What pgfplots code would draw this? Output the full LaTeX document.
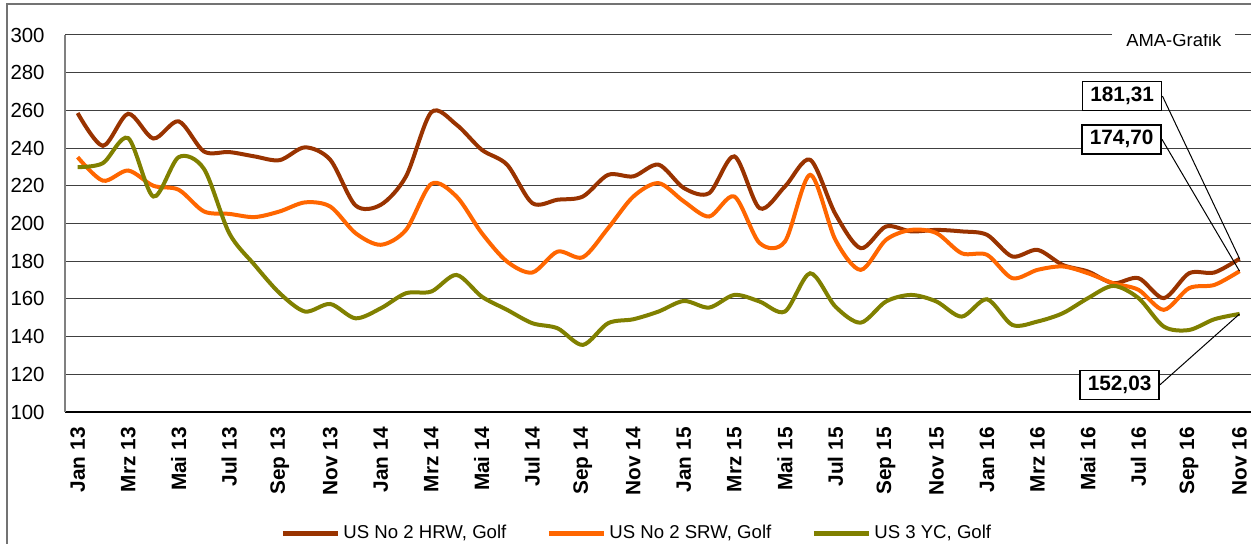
\documentclass[border=0pt]{standalone}
\usepackage{fontspec}
\setmainfont{Liberation Sans}[Ligatures=NoCommon]
\usepackage{pgfplots}
\usepackage{pgfplotstable}
\pgfplotsset{compat=1.18}

\definecolor{hrw}{RGB}{153,51,0}
\definecolor{srw}{RGB}{255,102,0}
\definecolor{yc}{RGB}{128,128,0}

% monthly prices, Jan 13 = 0 ... Nov 16 = 46
\pgfplotstableread{
m hrw srw yc
0 258.6 235.2 229.9
1 241.2 222.7 232.0
2 258.2 228.1 245.3
3 245.1 220.0 214.3
4 254.2 217.9 235.2
5 238.2 206.4 229.0
6 237.9 205.1 194.9
7 235.6 203.4 178.1
8 233.6 206.4 163.0
9 240.4 211.2 153.3
10 233.8 209.0 157.3
11 209.6 194.9 149.7
12 209.9 188.7 155.0
13 225.0 196.6 163.0
14 259.0 221.0 163.9
15 252.4 214.3 172.7
16 239.1 194.9 161.2
17 231.2 179.8 154.2
18 210.8 174.0 147.1
19 212.6 185.1 144.4
20 214.3 182.1 135.6
21 225.8 197.5 147.1
22 225.0 214.3 149.2
23 231.2 221.4 153.3
24 218.8 211.7 158.9
25 216.1 203.7 155.4
26 235.6 214.3 162.1
27 208.1 189.6 158.6
28 219.6 190.4 153.3
29 233.8 225.8 173.6
30 205.0 191.3 155.9
31 186.9 175.4 147.4
32 198.4 191.3 158.6
33 195.8 196.6 162.1
34 196.6 194.9 158.6
35 195.8 184.2 150.6
36 194.0 183.4 159.8
37 182.5 171.0 146.2
38 186.0 175.4 148.0
39 178.0 177.2 152.4
40 174.5 173.6 160.4
41 168.3 168.3 166.9
42 171.0 164.8 160.4
43 160.4 154.2 145.3
44 173.6 165.7 143.5
45 174.0 167.4 149.2
46 181.31 174.70 152.03
}\prices

\begin{document}
\begin{tikzpicture}
\path[use as bounding box, clip] (0pt,0pt) rectangle (625.5pt,272pt);
% outer chart frame (cropped)
\draw[black!55, line width=0.6pt] (3.5pt,-10pt) -- (3.5pt,270pt) -- (640pt,270pt);
\begin{axis}[
    at={(32.5pt,66pt)}, anchor=south west,
    scale only axis,
    width=593.6pt, height=188.5pt,
    xmin=-0.5, xmax=46.5,
    ymin=100, ymax=300,
    ytick={100,120,...,300},
    xtick={0,2,...,46},
    xticklabels={Jan 13,Mrz 13,Mai 13,Jul 13,Sep 13,Nov 13,Jan 14,Mrz 14,Mai 14,Jul 14,Sep 14,Nov 14,Jan 15,Mrz 15,Mai 15,Jul 15,Sep 15,Nov 15,Jan 16,Mrz 16,Mai 16,Jul 16,Sep 16,Nov 16},
    axis lines*=left,
    x axis line style={black, line width=0.6pt},
    y axis line style={black!50, line width=0.6pt},
    major tick length=0pt,
    ymajorgrids,
    grid style={black!75, line width=0.5pt},
    /pgf/number format/assume math mode=true,
    yticklabel style={font=\fontsize{10.2}{12}\selectfont, inner sep=0pt, anchor=east},
    yticklabel shift=10pt,
    xticklabel style={font=\fontsize{10.4}{12}\selectfont\bfseries, rotate=90, anchor=east, inner sep=0pt},
    xticklabel shift=7.5pt,
    legend columns=3,
    legend style={at={(0.1811,-0.321)}, anchor=west, draw=none, fill=none,
        inner sep=0pt, font=\fontsize{9.3}{11}\selectfont,
        nodes={inner xsep=1.5pt, inner ysep=0pt},
        /tikz/every even column/.append style={column sep=18.5pt}},
    legend image code/.code={\draw[#1, line width=2.5pt] (0pt,0pt) -- (27.5pt,0pt);},
    every axis plot/.append style={line width=2pt, smooth, tension=0.5},
]
\addplot[hrw] table[x=m, y=hrw] {\prices};
\addplot[srw] table[x=m, y=srw] {\prices};
\addplot[yc] table[x=m, y=yc] {\prices};
\legend{{US No 2 HRW, Golf}, {US No 2 SRW, Golf}, {US 3 YC, Golf}}

\node[fill=white, inner xsep=7pt, inner ysep=3pt, font=\fontsize{9.2}{11}\selectfont]
    at (axis cs:43.4,297.5) {AMA-Grafik};

\node[draw, line width=0.8pt, fill=white, minimum width=39.5pt, minimum height=14.5pt, inner sep=0pt,
    font=\fontsize{10.4}{12}\selectfont\bfseries] (b1) at (axis cs:41.35,267.6) {181,31};
\node[draw, line width=0.8pt, fill=white, minimum width=39.5pt, minimum height=14.5pt, inner sep=0pt,
    font=\fontsize{10.4}{12}\selectfont\bfseries] (b2) at (axis cs:41.33,244.7) {174,70};
\node[draw, line width=0.8pt, fill=white, minimum width=39.5pt, minimum height=14.5pt, inner sep=0pt,
    font=\fontsize{10.4}{12}\selectfont\bfseries] (b3) at (axis cs:41.25,114.4) {152,03};
\draw[black, line width=0.5pt] (b1.east) -- (axis cs:46,181.31);
\draw[black, line width=0.5pt] (b2.east) -- (axis cs:46,174.70);
\draw[black, line width=0.5pt] (b3.east) -- (axis cs:46,152.03);
\end{axis}
\end{tikzpicture}
\end{document}
